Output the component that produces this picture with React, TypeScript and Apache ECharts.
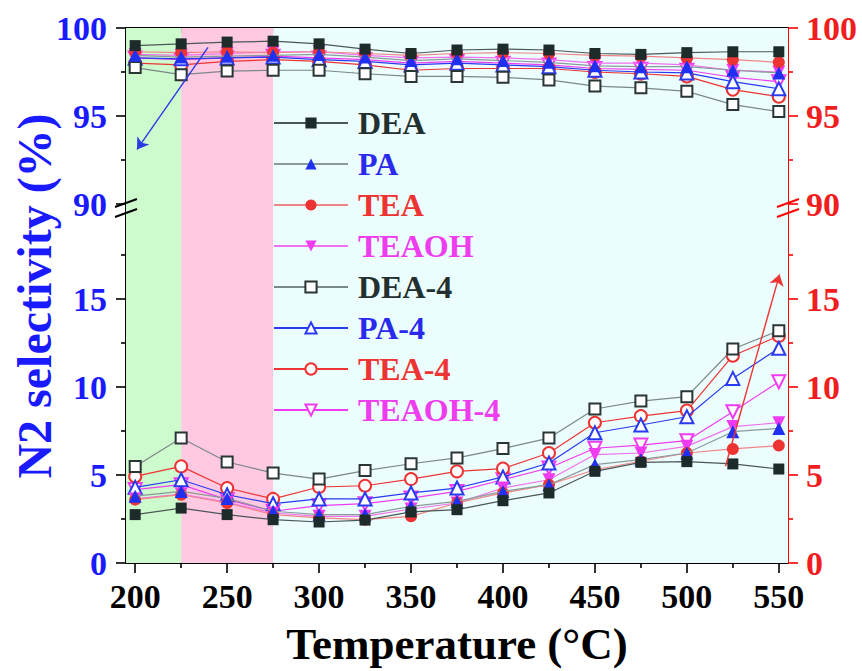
import React, { useEffect, useRef } from "react";
import * as echarts from "echarts";

// Reaction temperatures (°C)
const temperatures = [200, 225, 250, 275, 300, 325, 350, 375, 400, 425, 450, 475, 500, 525, 550];

// Upper band: N2 selectivity (%), left axis
const upperDEA = [99.0, 99.1, 99.2, 99.25, 99.1, 98.8, 98.55, 98.75, 98.8, 98.75, 98.55, 98.5, 98.6, 98.65, 98.65];
const upperPA = [98.45, 98.35, 98.4, 98.45, 98.5, 98.35, 98.15, 98.25, 98.15, 98.05, 97.85, 97.8, 97.8, 97.6, 97.45];
const upperTEA = [98.65, 98.6, 98.65, 98.6, 98.65, 98.55, 98.45, 98.55, 98.6, 98.55, 98.45, 98.4, 98.3, 98.2, 98.05];
const upperTEAOH = [98.5, 98.45, 98.55, 98.65, 98.65, 98.45, 98.3, 98.35, 98.3, 98.2, 98.0, 98.0, 97.9, 97.6, 97.5];
const upperDEA4 = [97.75, 97.35, 97.55, 97.6, 97.6, 97.4, 97.25, 97.25, 97.2, 97.05, 96.7, 96.6, 96.4, 95.65, 95.25];
const upperPA4 = [98.3, 98.25, 98.3, 98.35, 98.2, 98.1, 97.9, 98.0, 97.9, 97.8, 97.6, 97.5, 97.45, 96.95, 96.55];
const upperTEA4 = [98.0, 97.9, 98.1, 98.2, 98.1, 97.9, 97.6, 97.7, 97.7, 97.7, 97.5, 97.4, 97.25, 96.5, 96.1];
const upperTEAOH4 = [98.3, 98.2, 98.3, 98.4, 98.3, 98.2, 98.0, 98.1, 98.0, 97.9, 97.7, 97.65, 97.6, 97.2, 96.95];

// Lower band: right axis
const lowerDEA = [2.75, 3.12, 2.75, 2.46, 2.33, 2.44, 2.9, 3.03, 3.54, 3.98, 5.21, 5.72, 5.76, 5.63, 5.34];
const lowerPA = [3.8, 4.07, 3.67, 2.94, 2.75, 2.75, 3.22, 3.5, 4.07, 4.45, 5.59, 5.87, 6.25, 7.46, 7.65];
const lowerTEA = [3.6, 3.88, 3.41, 2.75, 2.56, 2.46, 2.65, 3.41, 3.98, 4.45, 5.3, 5.78, 6.25, 6.48, 6.67];
const lowerTEAOH = [3.64, 3.92, 3.45, 2.84, 2.65, 2.65, 3.07, 3.41, 4.26, 4.73, 6.16, 6.25, 6.63, 7.75, 7.97];
const lowerDEA4 = [5.49, 7.1, 5.74, 5.11, 4.77, 5.25, 5.64, 5.97, 6.5, 7.1, 8.75, 9.2, 9.45, 12.16, 13.2];
const lowerPA4 = [4.3, 4.73, 3.88, 3.37, 3.64, 3.64, 3.98, 4.26, 4.89, 5.68, 7.4, 7.84, 8.31, 10.49, 12.2];
const lowerTEA4 = [4.92, 5.49, 4.26, 3.64, 4.32, 4.39, 4.77, 5.21, 5.36, 6.25, 7.97, 8.35, 8.66, 11.78, 12.9];
const lowerTEAOH4 = [4.17, 4.45, 3.6, 2.94, 3.26, 3.37, 3.69, 4.07, 4.73, 5.4, 6.52, 6.7, 6.95, 8.6, 10.3];

// Tick positions
const xTickMajor = [200, 250, 300, 350, 400, 450, 500, 550];
const xTickMinor = [225, 275, 325, 375, 425, 475, 525];
const upperYMajor = [90, 95, 100];
const upperYMinor = [92.5, 97.5];
const lowerYMajor = [0, 5, 10, 15];
const lowerYMinor = [2.5, 7.5, 12.5, 17.5];

// Shaded temperature windows
const zoneBounds = [
  [195, 225],
  [225, 275],
  [275, 555],
];
const zoneColors = ["#cdfbcd", "#fec9e1", "#ebfdfd"];

// Arrows pointing to the axis each band belongs to
const blueArrow = [
  [239.6, 98.9],
  [201, 93.1],
];
const redArrow = [
  [521, 5.5],
  [550.4, 16.4],
];

const FONT = '"Liberation Serif", "Times New Roman", serif';
const BLUE = "#1a1aff";
const RED = "#ff0000";
const RED_TEXT = "#f01e1e";

// Layout of the two stacked panels
const W = 862;
const H = 671;
const LEFT = 126;
const RIGHT = 74;
const UP_TOP = 28;
const UP_H = 176;
const LOW_TOP = UP_TOP + UP_H;
const LOW_H = 359;

type Style = {
  name: string;
  symbol: string;
  rotate: number;
  size: number;
  color: string;
  line: string;
  text: string;
  upper: number[];
  lower: number[];
};

const seriesStyles: Style[] = [
  { name: "DEA", symbol: "rect", rotate: 0, size: 11, color: "#1e2b2b", line: "#4c5757", text: "#233030", upper: upperDEA, lower: lowerDEA },
  { name: "PA", symbol: "triangle", rotate: 0, size: 13, color: "#2030f0", line: "#8a9a9a", text: "#2a2aee", upper: upperPA, lower: lowerPA },
  { name: "TEA", symbol: "circle", rotate: 0, size: 12, color: "#ee3333", line: "#f08585", text: "#ee3333", upper: upperTEA, lower: lowerTEA },
  { name: "TEAOH", symbol: "triangle", rotate: 180, size: 13, color: "#f03cf0", line: "#f070f0", text: "#ee3cee", upper: upperTEAOH, lower: lowerTEAOH },
  { name: "DEA-4", symbol: "emptyRect", rotate: 0, size: 11, color: "#2a3535", line: "#7a8888", text: "#233030", upper: upperDEA4, lower: lowerDEA4 },
  { name: "PA-4", symbol: "emptyTriangle", rotate: 0, size: 13, color: "#2a3af0", line: "#2a3af0", text: "#2a2aee", upper: upperPA4, lower: lowerPA4 },
  { name: "TEA-4", symbol: "emptyCircle", rotate: 0, size: 12, color: "#ee3333", line: "#ee3333", text: "#ee3333", upper: upperTEA4, lower: lowerTEA4 },
  { name: "TEAOH-4", symbol: "emptyTriangle", rotate: 180, size: 13, color: "#f03cf0", line: "#f03cf0", text: "#ee3cee", upper: upperTEAOH4, lower: lowerTEAOH4 },
];

function tickAxis(opts: {
  dim: "x" | "y";
  grid: number;
  position: string;
  min: number;
  max: number;
  ticks: number[];
  len: number;
  inside: boolean;
  color: string;
  line: boolean;
  labels?: number[];
  labelColor?: string;
  margin?: number;
  extra?: any;
}) {
  return {
    type: "value",
    gridIndex: opts.grid,
    position: opts.position,
    min: opts.min,
    max: opts.max,
    axisLine: { show: opts.line, onZero: false, lineStyle: { color: opts.color, width: 2 } },
    axisTick: {
      show: true,
      inside: opts.inside,
      length: opts.len,
      customValues: opts.ticks,
      lineStyle: { color: opts.color, width: 1.6 },
    },
    axisLabel: opts.labels
      ? {
          show: true,
          customValues: opts.labels,
          color: opts.labelColor,
          fontFamily: FONT,
          fontWeight: "bold",
          fontSize: 34,
          margin: opts.margin,
        }
      : { show: false },
    splitLine: { show: false },
    ...(opts.extra || {}),
  };
}

export default function App() {
  const ref = useRef<HTMLDivElement>(null);

  useEffect(() => {
    if (!ref.current) return;
    const chart = echarts.init(ref.current, undefined, { renderer: "svg" });

    const xAxis = [
      tickAxis({ dim: "x", grid: 0, position: "top", min: 195, max: 555, ticks: xTickMajor, len: 10, inside: true, color: "#000", line: true }),
      tickAxis({ dim: "x", grid: 0, position: "top", min: 195, max: 555, ticks: xTickMinor, len: 5, inside: true, color: "#000", line: false }),
      tickAxis({
        dim: "x", grid: 1, position: "bottom", min: 195, max: 555, ticks: xTickMajor, len: 10, inside: false, color: "#000", line: true,
        labels: xTickMajor, labelColor: "#000", margin: 16,
        extra: {
          name: "Temperature (°C)",
          nameLocation: "middle",
          nameGap: 58,
          nameTextStyle: { fontFamily: FONT, fontWeight: "bold", fontSize: 45, color: "#000" },
        },
      }),
      tickAxis({ dim: "x", grid: 1, position: "bottom", min: 195, max: 555, ticks: xTickMinor, len: 5, inside: false, color: "#000", line: false }),
    ];

    const yAxis = [
      tickAxis({ dim: "y", grid: 0, position: "left", min: 90, max: 100, ticks: upperYMajor, len: 10, inside: false, color: "#000", line: true, labels: upperYMajor, labelColor: BLUE, margin: 19 }),
      tickAxis({ dim: "y", grid: 0, position: "left", min: 90, max: 100, ticks: upperYMinor, len: 5, inside: false, color: "#000", line: false }),
      tickAxis({ dim: "y", grid: 0, position: "right", min: 90, max: 100, ticks: upperYMajor, len: 10, inside: false, color: RED, line: true, labels: upperYMajor, labelColor: RED_TEXT, margin: 18 }),
      tickAxis({ dim: "y", grid: 0, position: "right", min: 90, max: 100, ticks: upperYMinor, len: 5, inside: false, color: RED, line: false }),
      tickAxis({ dim: "y", grid: 1, position: "left", min: 0, max: 20.4, ticks: lowerYMajor, len: 10, inside: false, color: "#000", line: true, labels: lowerYMajor, labelColor: BLUE, margin: 19 }),
      tickAxis({ dim: "y", grid: 1, position: "left", min: 0, max: 20.4, ticks: lowerYMinor, len: 5, inside: false, color: "#000", line: false }),
      tickAxis({ dim: "y", grid: 1, position: "right", min: 0, max: 20.4, ticks: lowerYMajor, len: 10, inside: false, color: RED, line: true, labels: lowerYMajor, labelColor: RED_TEXT, margin: 18 }),
      tickAxis({ dim: "y", grid: 1, position: "right", min: 0, max: 20.4, ticks: lowerYMinor, len: 5, inside: false, color: RED, line: false }),
    ];

    const zoneArea = {
      silent: true,
      data: zoneBounds.map((b, i) => [
        { xAxis: b[0], itemStyle: { color: zoneColors[i] } },
        { xAxis: b[1] },
      ]),
    };

    const arrow = (pts: number[][], color: string) => ({
      silent: true,
      symbol: ["none", "arrow"],
      symbolSize: 11,
      label: { show: false },
      lineStyle: { color, width: 1.4, type: "solid" },
      data: [[{ coord: pts[0] }, { coord: pts[1] }]],
    });

    const series: any[] = [];
    seriesStyles.forEach((s, i) => {
      const common = {
        type: "line",
        name: s.name,
        symbol: s.symbol,
        symbolRotate: s.rotate,
        symbolSize: s.size,
        itemStyle: { color: s.color, borderWidth: 0 },
        lineStyle: { color: s.line, width: 1.2 },
        emphasis: { disabled: true },
        z: 3 + (seriesStyles.length - i) * 0.01,
      };
      series.push({
        ...common,
        xAxisIndex: 0,
        yAxisIndex: 0,
        data: temperatures.map((t, k) => [t, s.upper[k]]),
        ...(i === 0 ? { markArea: zoneArea, markLine: arrow(blueArrow, "#2a3ae8") } : {}),
      });
      series.push({
        ...common,
        xAxisIndex: 2,
        yAxisIndex: 4,
        data: temperatures.map((t, k) => [t, s.lower[k]]),
        ...(i === 0 ? { markArea: zoneArea, markLine: arrow(redArrow, "#ee3333") } : {}),
      });
    });

    const breakMark = (x: number, y: number, color: string) => [
      { type: "line", shape: { x1: x - 11, y1: y - 1, x2: x + 11, y2: y - 9 }, style: { stroke: color, lineWidth: 2 }, z: 100 },
      { type: "line", shape: { x1: x - 11, y1: y + 9, x2: x + 11, y2: y + 1 }, style: { stroke: color, lineWidth: 2 }, z: 100 },
    ];

    chart.setOption({
      animation: false,
      backgroundColor: "#ffffff",
      grid: [
        { left: LEFT, right: RIGHT, top: UP_TOP, height: UP_H, containLabel: false },
        { left: LEFT, right: RIGHT, top: LOW_TOP, height: LOW_H, containLabel: false },
      ],
      xAxis,
      yAxis,
      legend: {
        orient: "vertical",
        left: 273,
        top: 107,
        padding: 0,
        itemWidth: 74,
        itemHeight: 14,
        itemGap: 9,
        selectedMode: false,
        data: seriesStyles.map((s) => ({
          name: s.name,
          textStyle: { color: s.text },
        })),
        textStyle: {
          fontFamily: FONT,
          fontWeight: "bold",
          fontSize: 32,
          lineHeight: 32,
          padding: [0, 0, 0, 5],
        },
      },
      graphic: [
        {
          type: "text",
          x: 34,
          y: 296,
          rotation: Math.PI / 2,
          style: {
            text: "N2 selectivity (%)",
            fill: BLUE,
            font: `bold 48px ${FONT}`,
            align: "center",
            verticalAlign: "middle",
            textAlign: "center",
            textVerticalAlign: "middle",
          },
        },
        ...breakMark(LEFT, LOW_TOP + 4, "#000"),
        ...breakMark(W - RIGHT, LOW_TOP + 4, RED),
      ],
      series,
    });

    return () => chart.dispose();
  }, []);

  return (
    <div
      ref={ref}
      style={{ position: "absolute", left: 0, top: 0, width: W, height: H }}
    />
  );
}
